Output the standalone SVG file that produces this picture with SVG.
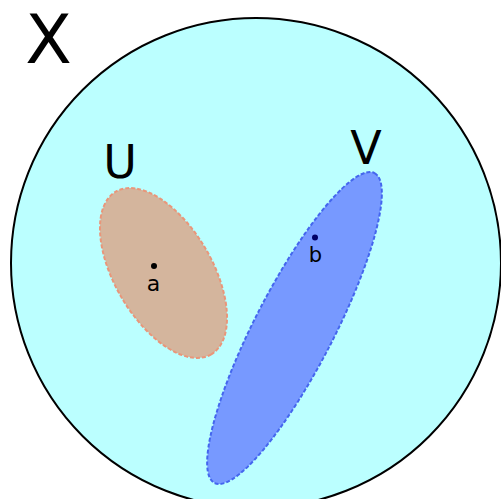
<svg xmlns="http://www.w3.org/2000/svg" width="501" height="499" viewBox="0 0 501 499">
<style>
.lbl{font-family:"DejaVu Sans",sans-serif;fill:#000;text-anchor:middle}
</style>
<rect width="501" height="499" fill="#fff"/>
<g id="X">
<circle cx="256" cy="263" r="245" fill="#bbffff" stroke="#000" stroke-width="2"/>
<text class="lbl" x="48.5" y="63" font-size="68">X</text>
</g>
<g id="U">
<ellipse cx="163.5" cy="273" rx="94.3" ry="48.6" transform="rotate(59.6 163.5 273)" fill="#d4b59d" stroke="#e9967a" stroke-width="2" stroke-dasharray="4 2"/>
<text class="lbl" x="120" y="177.5" font-size="46">U</text>
</g>
<g id="V">
<ellipse cx="294.5" cy="328" rx="174.4" ry="39.5" transform="rotate(-62.7 294.5 328)" fill="#7799ff" stroke="#4466ee" stroke-width="2" stroke-dasharray="4 2"/>
<text class="lbl" x="366" y="164" font-size="46">V</text>
</g>
<g id="a">
<circle cx="154" cy="266" r="3" fill="#000"/>
<text class="lbl" x="153.5" y="291" font-size="22">a</text>
</g>
<g id="b">
<circle cx="315" cy="237.5" r="3" fill="#000066"/>
<text class="lbl" x="315.5" y="262" font-size="21">b</text>
</g>
<g id="connectors"/>
</svg>
